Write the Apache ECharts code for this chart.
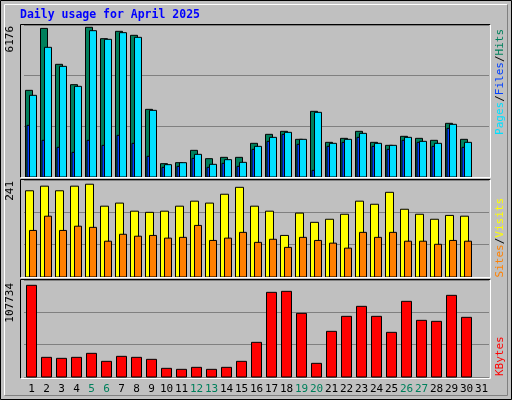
<!DOCTYPE html>
<html><head><meta charset="utf-8">
<script src="https://cdn.jsdelivr.net/npm/echarts@6/dist/echarts.min.js"></script>
<style>html,body{margin:0;padding:0;background:#c0c0c0}#c{width:512px;height:400px}</style>
</head><body><div id="c"></div>
<script>
const days = ['1','2','3','4','5','6','7','8','9','10','11','12','13','14','15','16','17','18','19','20','21','22','23','24','25','26','27','28','29','30','31'];
const weekends = ['5','6','12','13','19','20','26','27'];
const hits = [3575,6130,4648,3809,6176,5706,6009,5844,2791,550,591,1100,756,811,811,1389,1760,1884,1554,2709,1430,1595,1884,1430,1306,1678,1595,1513,2214,1554,null];
const files = [3369,5349,4565,3740,6036,5679,5954,5761,2750,509,591,935,523,715,605,1265,1636,1843,1554,2668,1389,1554,1801,1389,1306,1636,1471,1389,2173,1430,null];
const pages = [2131,1513,1224,1018,1513,1306,1719,1389,853,399,440,770,399,564,440,1141,1471,1760,1348,275,1265,1430,1636,1265,1141,1513,1430,1265,2008,1224,null];
const visits = [224,236,224,236,241,184,192,171,168,171,184,197,192,215,233,184,171,108,166,142,150,163,197,189,220,176,163,150,160,158,null];
const sites = [121,158,121,132,129,93,111,106,108,101,103,134,95,101,116,90,98,77,103,95,88,75,116,103,116,93,93,85,95,93,null];
const kbytes = [107734,23100,21930,23100,27800,18400,24280,23100,20750,10180,9000,11360,9000,11360,18400,40730,99470,100640,74800,16050,53650,71270,83020,71270,52470,88890,66570,65400,95940,70100,null];

function barSeries(data, gi, x0, x1, color, z){
  return {type:'custom', xAxisIndex:gi, yAxisIndex:gi, z:z,
    data: data.map((v,i)=>[i,v]),
    renderItem:(params, api)=>{
      const v = api.value(1);
      if (v == null || isNaN(v)) return null;
      const top = api.coord([api.value(0), v]);
      const bot = api.coord([api.value(0), 0]);
      return {type:'rect', shape:{x:top[0]+x0, y:top[1], width:x1-x0, height:bot[1]-top[1]},
        style:{fill:color, stroke:'#000', lineWidth:1}};
    }};
}
const L=24, W=465;
const grids=[{left:L,width:W,top:25,height:152},{left:L,width:W,top:180,height:97},{left:L,width:W,top:280,height:97}];
const maxes=[6270,252,113960];
const ints=[2090,84,113960/3];
const xAxes=grids.map((g,i)=>({type:'category',gridIndex:i,data:days,boundaryGap:true,
  axisLine:{show:false},axisTick:{show:false},
  axisLabel:{show:i===2,interval:0,margin:7,fontFamily:'DejaVu Sans Mono',fontSize:11,
    formatter:v=>weekends.includes(v)?'{g|'+v+'}':'{k|'+v+'}',
    rich:{g:{color:'#00805C',fontFamily:'DejaVu Sans Mono',fontSize:11},k:{color:'#000',fontFamily:'DejaVu Sans Mono',fontSize:11}}}}));
const yAxes=grids.map((g,i)=>({type:'value',gridIndex:i,min:0,max:maxes[i],interval:ints[i],
  axisLabel:{show:false},axisLine:{show:false},axisTick:{show:false},
  splitLine:{lineStyle:{color:'#808080',width:1}}}));

function frame(t,b){
  return [
    {type:'polyline',shape:{points:[[20.5,b],[20.5,t],[490.5,t]]},style:{stroke:'#000',lineWidth:1,fill:null},z:100},
    {type:'polyline',shape:{points:[[20.5,b],[490.5,b],[490.5,t]]},style:{stroke:'#fff',lineWidth:1,fill:null},z:100}
  ];
}
const mono='DejaVu Sans Mono';
const graphics=[
  {type:'rect',shape:{x:0.5,y:0.5,width:511,height:399},style:{fill:'#c0c0c0',stroke:'#000'},z:-10},
  {type:'polyline',shape:{points:[[4.5,395.5],[4.5,4.5],[507.5,4.5]]},style:{stroke:'#fff',fill:null},z:-9},
  {type:'polyline',shape:{points:[[4.5,395.5],[507.5,395.5],[507.5,4.5]]},style:{stroke:'#808080',fill:null},z:-9},
  ...frame(24.5,177.5),...frame(179.5,277.5),...frame(279.5,378.5),
  {type:'text',x:20,y:9,style:{text:'Daily usage for April 2025',fill:'#0000FF',font:'bold 11.5px '+mono},z:100},
  {type:'text',x:10,y:26,rotation:Math.PI/2,style:{text:'6176',fill:'#000',font:'11px '+mono,align:'right',verticalAlign:'middle'},z:100},
  {type:'text',x:10,y:181,rotation:Math.PI/2,style:{text:'241',fill:'#000',font:'11px '+mono,align:'right',verticalAlign:'middle'},z:100},
  {type:'text',x:10,y:283,rotation:Math.PI/2,style:{text:'107734',fill:'#000',font:'11px '+mono,align:'right',verticalAlign:'middle'},z:100},
  {type:'text',x:500,y:29,rotation:Math.PI/2,style:{rich:{p:{fill:'#00E0FF',font:'11px '+mono},f:{fill:'#0040FF',font:'11px '+mono},h:{fill:'#00805C',font:'11px '+mono},s:{fill:'#000',font:'11px '+mono}},
    text:'{p|Pages}{s|/}{f|Files}{s|/}{h|Hits}',align:'right',verticalAlign:'middle'},z:100},
  {type:'text',x:500,y:198,rotation:Math.PI/2,style:{rich:{o:{fill:'#FF8000',font:'11px '+mono},y:{fill:'#FFFF00',font:'11px '+mono},s:{fill:'#000',font:'11px '+mono}},
    text:'{o|Sites}{s|/}{y|Visits}',align:'right',verticalAlign:'middle'},z:100},
  {type:'text',x:500,y:376,rotation:Math.PI/2,style:{text:'KBytes',fill:'#FF0000',font:'11px '+mono,align:'left',verticalAlign:'middle'},z:100}
];
const chart=echarts.init(document.getElementById('c'));
chart.setOption({animation:false,backgroundColor:'#c0c0c0',grid:grids,xAxis:xAxes,yAxis:yAxes,graphic:graphics,
  series:[
    barSeries(hits,0,-6,1,'#00805C',2),
    barSeries(files,0,-2,5,'#00E0FF',3),
    barSeries(pages,0,-4.5,-2,'#0040FF',4),
    barSeries(visits,1,-6,2,'#FFFF00',2),
    barSeries(sites,1,-2,5,'#FF8000',3),
    barSeries(kbytes,2,-5,5,'#FF0000',2)
  ]});
</script></body></html>
